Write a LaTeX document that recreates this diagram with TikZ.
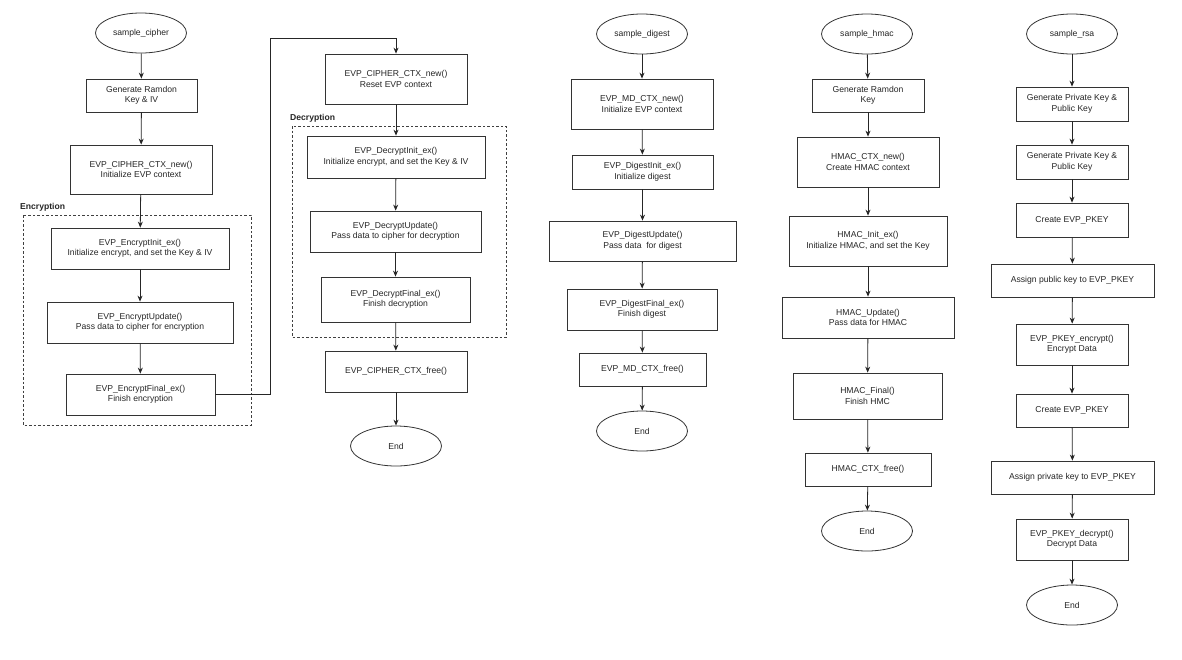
\documentclass[tikz,border=0pt]{standalone}
\usepackage{fontspec}
\setmainfont{Liberation Sans}
\usetikzlibrary{shapes.geometric,arrows.meta}
\begin{document}
\begin{tikzpicture}[x=1pt,y=-1pt,
  every node/.style={font=\fontsize{8.6}{10.5}\selectfont,align=center,inner sep=0pt,text=black!85},
  box/.style={draw=black!80,line width=0.8pt,rectangle},
  term/.style={draw=black!80,line width=0.8pt,ellipse,minimum width=91pt,minimum height=40pt},
  arr/.style={draw=black!85,line width=0.8pt,-{Stealth[length=6pt,width=5pt]}},
  grp/.style={draw=black!75,line width=0.7pt,dash pattern=on 2.5pt off 2pt},
  lbl/.style={font=\bfseries\fontsize{8.6}{10}\selectfont,anchor=west}]
\useasboundingbox[fill=white] (0,0) rectangle (1182,659);
% groups
\draw[grp] (23,215) rectangle (251,425);
\node[lbl] (lenc) at (20,207) {Encryption};
\draw[grp] (292,126) rectangle (506,337);
\node[lbl] (ldec) at (290,118) {Decryption};
% column 1
\node[term] (sc) at (141,33) {sample\_cipher};
\node[box,minimum width=111pt,minimum height=33pt] (g1) at (141.5,95.5) {Generate Ramdon\\Key \& IV};
\node[box,minimum width=142pt,minimum height=49pt] (c1) at (141,169.5) {EVP\_CIPHER\_CTX\_new()\\Initialize EVP context};
\node[box,minimum width=178pt,minimum height=41pt] (e1) at (140,248.5) {EVP\_EncryptInit\_ex()\\Initialize encrypt, and set the Key \& IV};
\node[box,minimum width=186pt,minimum height=41pt] (e2) at (140,322.5) {EVP\_EncryptUpdate()\\Pass data to cipher for encryption};
\node[box,minimum width=149pt,minimum height=41pt] (e3) at (140.5,394.5) {EVP\_EncryptFinal\_ex()\\Finish encryption};
% column 2
\node[box,minimum width=142pt,minimum height=50pt] (c2) at (396,79) {EVP\_CIPHER\_CTX\_new()\\Reset EVP context};
\node[box,minimum width=178pt,minimum height=42pt] (d1) at (396,157) {EVP\_DecryptInit\_ex()\\Initialize encrypt, and set the Key \& IV};
\node[box,minimum width=171pt,minimum height=41pt] (d2) at (395.5,231.5) {EVP\_DecryptUpdate()\\Pass data to cipher for decryption};
\node[box,minimum width=149pt,minimum height=45pt] (d3) at (395.5,299.5) {EVP\_DecryptFinal\_ex()\\Finish decryption};
\node[box,minimum width=142pt,minimum height=41pt] (f2) at (396,371.5) {EVP\_CIPHER\_CTX\_free()};
\node[term] (end2) at (396,446) {End};
\coordinate (t1) at (270,38);
\coordinate (t2) at (396,38);
% column 3
\node[term] (sd) at (642,34) {sample\_digest};
\node[box,minimum width=142pt,minimum height=50pt] (m1) at (642,104) {EVP\_MD\_CTX\_new()\\Initialize EVP context};
\node[box,minimum width=141pt,minimum height=34pt] (m2) at (642.5,172) {EVP\_DigestInit\_ex()\\Initialize digest};
\node[box,minimum width=187pt,minimum height=40pt] (m3) at (642.5,241) {EVP\_DigestUpdate()\\Pass data\ \ for digest};
\node[box,minimum width=150pt,minimum height=41pt] (m4) at (642,309.5) {EVP\_DigestFinal\_ex()\\Finish digest};
\node[box,minimum width=127pt,minimum height=33pt] (m5) at (642.5,369.5) {EVP\_MD\_CTX\_free()};
\node[term] (end3) at (642,431) {End};
% column 4
\node[term] (sh) at (867,34) {sample\_hmac};
\node[box,minimum width=112pt,minimum height=33pt] (h1) at (868,95.5) {Generate Ramdon\\Key};
\node[box,minimum width=142pt,minimum height=50pt] (h2) at (868,162) {HMAC\_CTX\_new()\\Create HMAC context};
\node[box,minimum width=158pt,minimum height=50pt] (h3) at (868,241) {HMAC\_Init\_ex()\\Initialize HMAC, and set the Key};
\node[box,minimum width=172pt,minimum height=41pt] (h4) at (868,317.5) {HMAC\_Update()\\Pass data for HMAC};
\node[box,minimum width=149pt,minimum height=46pt] (h5) at (867.5,396) {HMAC\_Final()\\Finish HMC};
\node[box,minimum width=126pt,minimum height=33pt] (h6) at (868,469.5) {HMAC\_CTX\_free()};
\node[term] (end4) at (867,531) {End};
% column 5
\node[term] (sr) at (1072,34) {sample\_rsa};
\node[box,minimum width=112pt,minimum height=34pt] (r1) at (1072,104) {Generate Private Key \&\\Public Key};
\node[box,minimum width=112pt,minimum height=34pt] (r2) at (1072,162) {Generate Private Key \&\\Public Key};
\node[box,minimum width=112pt,minimum height=34pt] (r3) at (1072,220) {Create EVP\_PKEY};
\node[box,minimum width=163pt,minimum height=33pt] (r4) at (1072.5,280.5) {Assign public key to EVP\_PKEY};
\node[box,minimum width=112pt,minimum height=41pt] (r5) at (1072,344.5) {EVP\_PKEY\_encrypt()\\Encrypt Data};
\node[box,minimum width=112pt,minimum height=33pt] (r6) at (1072,410.5) {Create EVP\_PKEY};
\node[box,minimum width=163pt,minimum height=33pt] (r7) at (1072.5,477.5) {Assign private key to EVP\_PKEY};
\node[box,minimum width=112pt,minimum height=41pt] (r8) at (1072,539.5) {EVP\_PKEY\_decrypt()\\Decrypt Data};
\node[term] (end5) at (1072,605) {End};
% connectors
\foreach \a/\b in {sc/g1,g1/c1,c1/e1,e1/e2,e2/e3,c2/d1,d1/d2,d2/d3,d3/f2,f2/end2,
  sd/m1,m1/m2,m2/m3,m3/m4,m4/m5,m5/end3,
  sh/h1,h1/h2,h2/h3,h3/h4,h4/h5,h5/h6,h6/end4,
  sr/r1,r1/r2,r2/r3,r3/r4,r4/r5,r5/r6,r6/r7,r7/r8,r8/end5}
  \draw[arr] (\a) -- (\b);
\draw[arr] (e3.east) -| (t1) -- (t2) -- (c2.north);
\end{tikzpicture}
\end{document}
